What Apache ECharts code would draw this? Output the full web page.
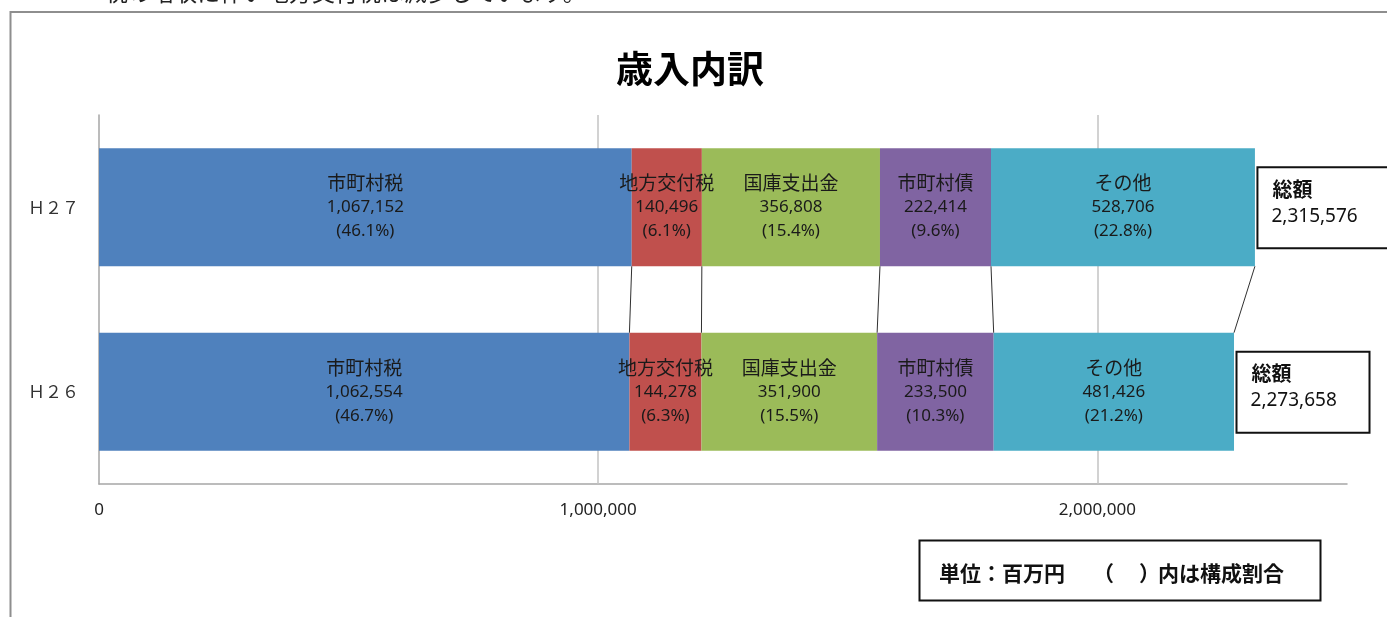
<!DOCTYPE html>
<html>
<head>
<meta charset="utf-8">
<script src="https://cdn.jsdelivr.net/npm/echarts@6/dist/echarts.min.js"></script>
<style>
html,body{margin:0;padding:0;background:#fff;}
#chart{width:1387px;height:617px;}
</style>
</head>
<body>
<div id="chart"></div>
<script>
// ---- data ----
const categories = ['Ｈ２６', 'Ｈ２７'];
const seriesNames = ['市町村税', '地方交付税', '国庫支出金', '市町村債', 'その他'];
const muniTax      = [1062554, 1067152];
const localAllot   = [144278, 140496];
const treasury     = [351900, 356808];
const muniBonds    = [233500, 222414];
const others       = [481426, 528706];
const pctMuniTax    = [46.7, 46.1];
const pctLocalAllot = [6.3, 6.1];
const pctTreasury   = [15.5, 15.4];
const pctMuniBonds  = [10.3, 9.6];
const pctOthers     = [21.2, 22.8];
const totals = [2273658, 2315576];
const xTicks = [0, 1000000, 2000000];
const xMax = 2500000;

const seriesValues = [muniTax, localAllot, treasury, muniBonds, others];
const seriesPcts = [pctMuniTax, pctLocalAllot, pctTreasury, pctMuniBonds, pctOthers];
const colors = ['#4F81BD', '#C0504D', '#9BBB59', '#8064A2', '#4BACC6'];

const fmt = v => v.toLocaleString('en-US');
const FONT = "'Noto Sans', 'Noto Sans CJK JP', sans-serif";
const CJK = "'Noto Sans CJK JP', sans-serif";
const BAR_RATIO = 0.64;

// cumulative boundaries for series lines (H27 bottom edge -> H26 top edge)
const connectors = [];
let c26 = 0, c27 = 0;
for (let i = 0; i < seriesValues.length; i++) {
  c26 += seriesValues[i][0];
  c27 += seriesValues[i][1];
  connectors.push([c27, c26, 0]);
}

const barSeries = seriesNames.map((name, i) => ({
  name: name,
  type: 'bar',
  stack: 'total',
  barWidth: (BAR_RATIO * 100) + '%',
  z: 2,
  itemStyle: { color: colors[i] },
  label: {
    show: true,
    position: 'inside',
    fontFamily: FONT,
    color: '#1a1a1a',
    formatter: p => `{n|${name}}\n{v|${fmt(p.value)}}\n{v|(${seriesPcts[i][p.dataIndex]}%)}`,
    rich: {
      n: { fontSize: 19, lineHeight: 24, fontFamily: CJK, color: '#1a1a1a' },
      v: { fontSize: 17, lineHeight: 24, fontFamily: FONT, color: '#1a1a1a' }
    }
  },
  data: seriesValues[i],
  markLine: i === 0 ? {
    silent: true,
    z: 1,
    symbol: 'none',
    label: { show: false },
    lineStyle: { color: '#c3c3c3', type: 'solid', width: 1.5 },
    data: xTicks.filter(v => v > 0).map(v => ({ xAxis: v }))
  } : undefined
}));

const connectorSeries = {
  type: 'custom',
  z: 3,
  silent: true,
  encode: { x: [0, 1], y: 2 },
  data: connectors,
  renderItem: (params, api) => {
    const p27 = api.coord([api.value(0), 1]);
    const p26 = api.coord([api.value(1), 0]);
    const half = api.size([0, 1])[1] * BAR_RATIO / 2;
    return {
      type: 'line',
      shape: { x1: p27[0], y1: p27[1] + half, x2: p26[0], y2: p26[1] - half },
      style: { stroke: '#303030', lineWidth: 1 }
    };
  }
};

const totalSeries = {
  type: 'custom',
  z: 4,
  silent: true,
  encode: { x: 0, y: 1 },
  data: totals.map((t, i) => [t, i]),
  renderItem: (params, api) => {
    const p = api.coord([api.value(0), api.value(1)]);
    const x = p[0] + 2.5, y = p[1] - 40;
    return {
      type: 'group',
      children: [
        { type: 'rect', shape: { x: x, y: y, width: 133, height: 81 },
          style: { fill: '#fff', stroke: '#111', lineWidth: 2 } },
        { type: 'text', style: { x: x + 15, y: p[1] - 18, text: '総額', fontFamily: CJK, fontWeight: 'bold',
          fontSize: 20, fill: '#111', verticalAlign: 'middle', align: 'left' } },
        { type: 'text', style: { x: x + 14, y: p[1] + 9, text: fmt(totals[params.dataIndex]), fontFamily: FONT,
          fontSize: 19, fill: '#111', verticalAlign: 'middle', align: 'left' } }
      ]
    };
  }
};

const chart = echarts.init(document.getElementById('chart'), null, { renderer: 'canvas' });
chart.setOption({
  animation: false,
  backgroundColor: '#fff',
  grid: { left: 99, right: 40, top: 115, bottom: 133, containLabel: false },
  xAxis: {
    type: 'value',
    min: 0,
    max: xMax,
    interval: 1000000,
    axisLine: { show: true, lineStyle: { color: '#a6a6a6', width: 1.5 } },
    axisTick: { show: false },
    splitLine: { show: false },
    axisLabel: {
      showMaxLabel: false,
      margin: 18,
      fontFamily: FONT,
      fontSize: 17,
      color: '#222',
      formatter: v => fmt(v)
    }
  },
  yAxis: {
    type: 'category',
    data: categories,
    axisLine: { show: true, lineStyle: { color: '#a6a6a6', width: 1.5 } },
    axisTick: { show: false },
    axisLabel: { margin: 20, fontFamily: CJK, fontSize: 17, color: '#333' }
  },
  graphic: [
    { type: 'rect', z: -10, silent: true,
      shape: { x: 10.5, y: 12, width: 1500, height: 800 },
      style: { fill: 'none', stroke: '#8e8e8e', lineWidth: 2 } },
    { type: 'text', silent: true, left: 105, top: -19,
      style: { text: '税の増収に伴い地方交付税は減少しています。', fontFamily: CJK, fontSize: 23, fill: '#222' } },
    { type: 'text', silent: true, x: 690, y: 69,
      style: { text: '歳入内訳', fontFamily: CJK, fontWeight: 'bold', fontSize: 37, fill: '#000',
        align: 'center', verticalAlign: 'middle' } },
    { type: 'rect', silent: true,
      shape: { x: 919.5, y: 540.5, width: 401, height: 60 },
      style: { fill: '#fff', stroke: '#111', lineWidth: 2 } },
    { type: 'text', silent: true, x: 939, y: 573,
      style: { text: '単位：百万円', fontFamily: CJK, fontWeight: 'bold', fontSize: 21,
        fill: '#111', align: 'left', verticalAlign: 'middle' } },
    { type: 'text', silent: true, x: 1093, y: 573,
      style: { text: '（', fontFamily: CJK, fontWeight: 'bold', fontSize: 21,
        fill: '#111', align: 'left', verticalAlign: 'middle' } },
    { type: 'text', silent: true, x: 1139, y: 573,
      style: { text: '）', fontFamily: CJK, fontWeight: 'bold', fontSize: 21,
        fill: '#111', align: 'left', verticalAlign: 'middle' } },
    { type: 'text', silent: true, x: 1158, y: 573,
      style: { text: '内は構成割合', fontFamily: CJK, fontWeight: 'bold', fontSize: 21,
        fill: '#111', align: 'left', verticalAlign: 'middle' } }
  ],
  series: barSeries.concat([connectorSeries, totalSeries])
});
</script>
</body>
</html>
